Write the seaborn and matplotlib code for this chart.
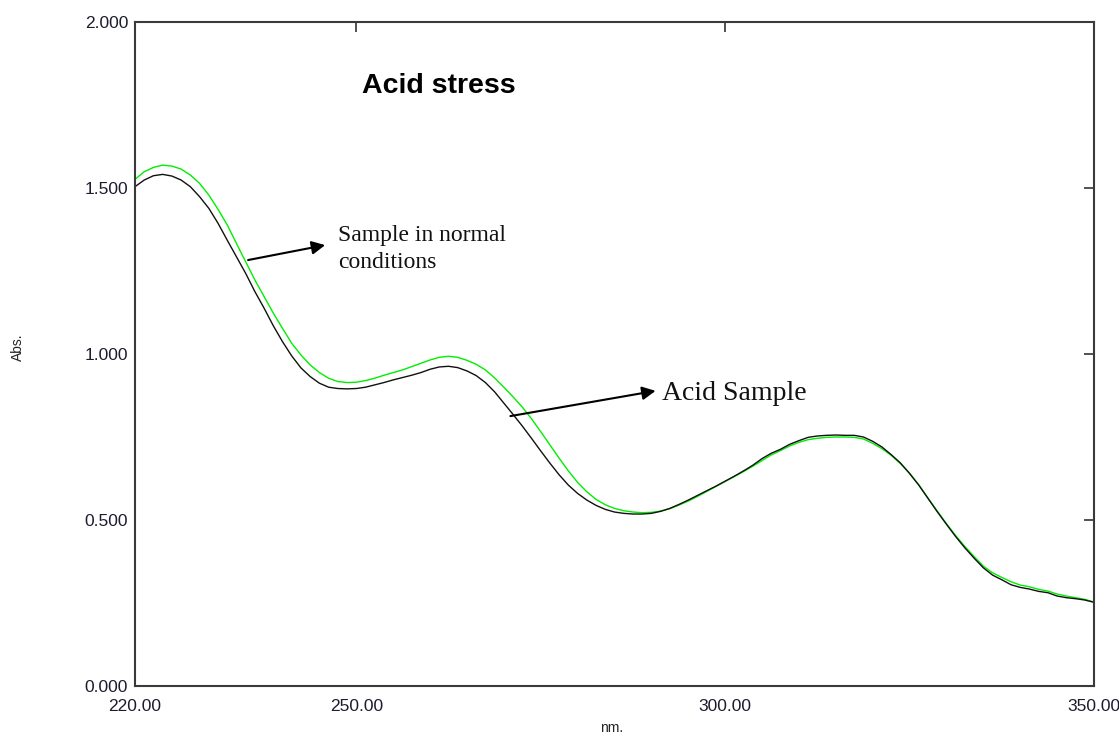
import numpy as np
import pandas as pd
import matplotlib
matplotlib.use("Agg")
import matplotlib.pyplot as plt
import seaborn as sns

# Wavelength grid (nm)
wavelength = [220.0, 221.25, 222.5, 223.75, 225.0, 226.25, 227.5, 228.75, 230.0, 231.25,
              232.5, 233.75, 235.0, 236.25, 237.5, 238.75, 240.0, 241.25, 242.5, 243.75,
              245.0, 246.25, 247.5, 248.75, 250.0, 251.25, 252.5, 253.75, 255.0, 256.25,
              257.5, 258.75, 260.0, 261.25, 262.5, 263.75, 265.0, 266.25, 267.5, 268.75,
              270.0, 271.25, 272.5, 273.75, 275.0, 276.25, 277.5, 278.75, 280.0, 281.25,
              282.5, 283.75, 285.0, 286.25, 287.5, 288.75, 290.0, 291.25, 292.5, 293.75,
              295.0, 296.25, 297.5, 298.75, 300.0, 301.25, 302.5, 303.75, 305.0, 306.25,
              307.5, 308.75, 310.0, 311.25, 312.5, 313.75, 315.0, 316.25, 317.5, 318.75,
              320.0, 321.25, 322.5, 323.75, 325.0, 326.25, 327.5, 328.75, 330.0, 331.25,
              332.5, 333.75, 335.0, 336.25, 337.5, 338.75, 340.0, 341.25, 342.5, 343.75,
              345.0, 346.25, 347.5, 348.75, 350.0]

# Sample in normal conditions (green)
abs_normal = [1.526, 1.549, 1.562, 1.569, 1.566, 1.557, 1.539, 1.514, 1.479, 1.436,
              1.389, 1.333, 1.278, 1.223, 1.173, 1.123, 1.077, 1.032, 0.997, 0.967,
              0.944, 0.927, 0.917, 0.914, 0.915, 0.920, 0.927, 0.936, 0.944, 0.952,
              0.962, 0.972, 0.982, 0.990, 0.993, 0.990, 0.981, 0.969, 0.952, 0.928,
              0.900, 0.871, 0.840, 0.805, 0.766, 0.726, 0.686, 0.648, 0.613, 0.585,
              0.562, 0.546, 0.535, 0.528, 0.524, 0.522, 0.523, 0.527, 0.534, 0.545,
              0.557, 0.571, 0.586, 0.601, 0.616, 0.631, 0.646, 0.662, 0.679, 0.696,
              0.709, 0.723, 0.734, 0.742, 0.746, 0.749, 0.750, 0.750, 0.749, 0.744,
              0.731, 0.715, 0.695, 0.670, 0.641, 0.606, 0.566, 0.527, 0.489, 0.453,
              0.420, 0.390, 0.361, 0.341, 0.327, 0.314, 0.304, 0.299, 0.291, 0.286,
              0.277, 0.271, 0.266, 0.261, 0.253]

# Acid sample (black)
abs_acid = [1.504, 1.524, 1.537, 1.541, 1.536, 1.524, 1.504, 1.474, 1.439, 1.394,
            1.343, 1.293, 1.243, 1.188, 1.138, 1.085, 1.037, 0.994, 0.958, 0.932,
            0.912, 0.900, 0.896, 0.895, 0.896, 0.900, 0.907, 0.914, 0.922, 0.929,
            0.936, 0.944, 0.954, 0.961, 0.963, 0.959, 0.949, 0.935, 0.914, 0.886,
            0.852, 0.818, 0.783, 0.746, 0.708, 0.671, 0.636, 0.605, 0.580, 0.560,
            0.544, 0.532, 0.524, 0.520, 0.518, 0.518, 0.520, 0.526, 0.535, 0.547,
            0.560, 0.574, 0.588, 0.602, 0.617, 0.632, 0.648, 0.665, 0.685, 0.701,
            0.713, 0.728, 0.739, 0.749, 0.753, 0.755, 0.756, 0.755, 0.755, 0.750,
            0.737, 0.720, 0.697, 0.672, 0.640, 0.605, 0.565, 0.525, 0.487, 0.450,
            0.416, 0.385, 0.356, 0.334, 0.320, 0.305, 0.297, 0.292, 0.285, 0.281,
            0.271, 0.266, 0.263, 0.259, 0.252]

x_ticks = [220, 250, 300, 350]
x_tick_labels = ["220.00", "250.00", "300.00", "350.00"]
y_ticks = [0.0, 0.5, 1.0, 1.5, 2.0]
y_tick_labels = ["0.000", "0.500", "1.000", "1.500", "2.000"]

df = pd.DataFrame({
    "nm": wavelength * 2,
    "Abs": abs_normal + abs_acid,
    "series": ["normal"] * len(wavelength) + ["acid"] * len(wavelength),
})

sns.set_style("white")
plt.rcParams["font.family"] = ["Liberation Sans", "DejaVu Sans"]

fig = plt.figure(figsize=(11.19, 7.36), dpi=100)
ax = fig.add_axes([135 / 1119, 1 - 686 / 736, (1094 - 135) / 1119, (686 - 22) / 736])

sns.lineplot(data=df, x="nm", y="Abs", hue="series", hue_order=["normal", "acid"],
             palette={"normal": "#00ee00", "acid": "#111111"}, linewidth=1.0,
             legend=False, ax=ax, sort=False, estimator=None)

ax.set_xlim(220, 350)
ax.set_ylim(0, 2.0)
ax.set_xticks(x_ticks)
ax.set_xticklabels(x_tick_labels)
ax.set_yticks(y_ticks)
ax.set_yticklabels(y_tick_labels)
ax.tick_params(axis="both", direction="in", length=7.2, width=1.2, color="#333333",
               labelsize=12.5, labelcolor="#1c1c30", top=True, right=True)
ax.tick_params(axis="x", pad=9.5)
ax.tick_params(axis="y", pad=5)
for s in ax.spines.values():
    s.set_color("#3a3a3a")
    s.set_linewidth(1.5)
ax.set_xlabel("")
ax.set_ylabel("")

fig.text(612 / 1119, 1 - 728 / 736, "nm.", ha="center", va="center", fontsize=10, color="#222222")
fig.text(18 / 1119, 1 - 347 / 736, "Abs.", ha="center", va="center", rotation=90,
         fontsize=10, color="#222222")

ax.text(0.2367, 0.8935, "Acid stress", transform=ax.transAxes, ha="left", va="baseline",
        fontsize=20.5, fontweight="bold", color="black")

serif = ["Liberation Serif", "DejaVu Serif"]
ax.annotate("", xy=(245.78, 1.328), xytext=(235.33, 1.283),
            arrowprops=dict(arrowstyle="-|>", lw=1.5, color="black", mutation_scale=20,
                            shrinkA=0, shrinkB=0))
ax.text(247.55, 1.258, "Sample in normal\nconditions", ha="left", va="baseline",
        fontsize=17, family=serif, color="#111111", linespacing=1.40)

ax.annotate("", xy=(290.57, 0.889), xytext=(270.89, 0.813),
            arrowprops=dict(arrowstyle="-|>", lw=1.5, color="black", mutation_scale=20,
                            shrinkA=0, shrinkB=0))
ax.text(291.47, 0.861, "Acid Sample", ha="left", va="baseline",
        fontsize=20, family=serif, color="#111111")

fig.savefig("out.png", dpi=100)
